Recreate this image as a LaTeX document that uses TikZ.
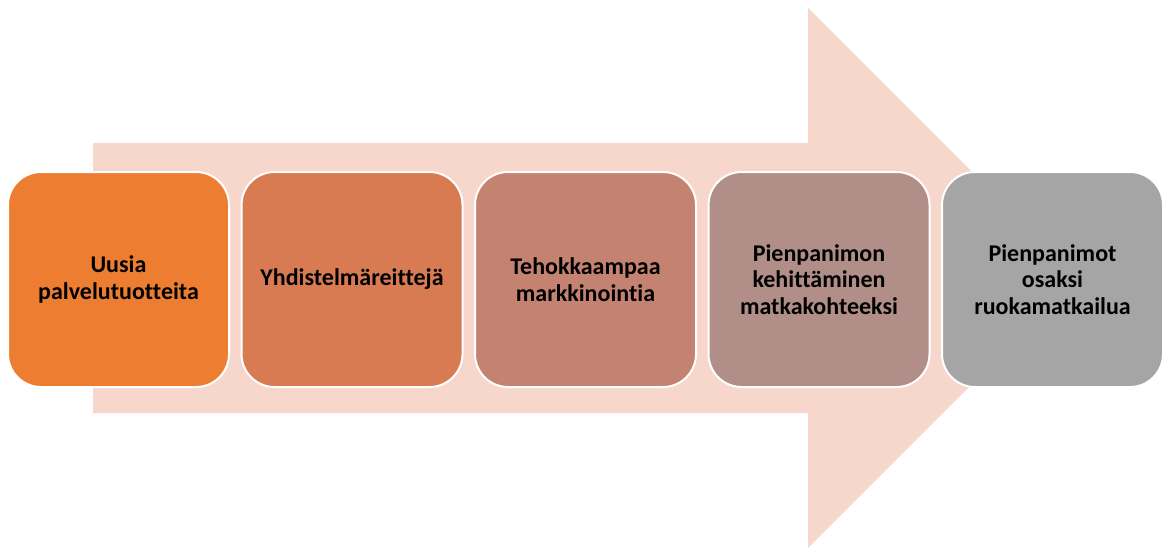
\documentclass[tikz,border=0pt]{standalone}
\usepackage{fontspec}
\setmainfont{Carlito}[Ligatures=NoCommon]
\definecolor{arrowfill}{HTML}{F7D7CC}
\definecolor{cA}{HTML}{ED7D31}
\definecolor{cB}{HTML}{D87B52}
\definecolor{cC}{HTML}{C48271}
\definecolor{cD}{HTML}{B18F88}
\definecolor{cE}{HTML}{A5A5A5}
\begin{document}
\begin{tikzpicture}[x=1pt,y=-1pt,
  stagebox/.style={draw=white, line width=2pt, rounded corners=33pt,
    minimum width=221pt, minimum height=215pt, align=center,
    text width=210pt, inner sep=0pt,
    font=\bfseries\fontsize{24}{26.5}\selectfont}]
\useasboundingbox (0,0) rectangle (1166,549);
\fill[arrowfill] (93,143) -- (808,143) -- (808,8) -- (1078,278) -- (808,548) -- (808,413) -- (93,413) -- cycle;
\node[stagebox, fill=cA] (b1) at (118.5,279.5) {Uusia\\palvelutuotteita};
\node[stagebox, fill=cB] (b2) at (352,279.5) {Yhdistelmäreittejä};
\node[stagebox, fill=cC] (b3) at (585.5,279.5) {Tehokkaampaa\\markkinointia};
\node[stagebox, fill=cD] (b4) at (819,279.5) {Pienpanimon\\kehittäminen\\matkakohteeksi};
\node[stagebox, fill=cE] (b5) at (1052.5,279.5) {Pienpanimot\\osaksi\\ruokamatkailua};
\end{tikzpicture}
\end{document}
